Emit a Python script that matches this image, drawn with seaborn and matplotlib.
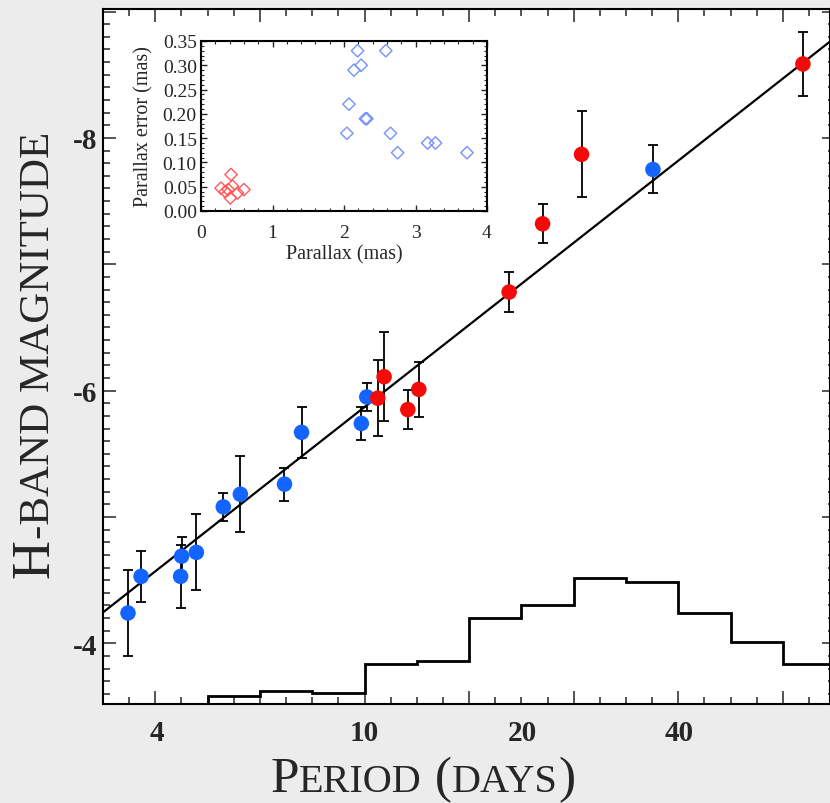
import numpy as np
import pandas as pd
import matplotlib
matplotlib.use("Agg")
import matplotlib.pyplot as plt
import seaborn as sns
from matplotlib.ticker import FixedLocator, NullLocator, NullFormatter, MultipleLocator
from matplotlib.transforms import IdentityTransform

# ---------------- data ----------------
blue_period = [3.53, 3.74, 4.45, 4.47, 4.77, 5.37, 5.79, 7.03, 7.58, 9.86, 10.1, 35.6]
blue_mag = [-4.24, -4.53, -4.53, -4.69, -4.72, -5.08, -5.18, -5.26, -5.67, -5.74, -5.95, -7.75]
blue_err = [0.34, 0.20, 0.25, 0.15, 0.30, 0.11, 0.30, 0.13, 0.20, 0.13, 0.11, 0.19]

red_period = [10.6, 10.9, 12.1, 12.7, 18.9, 21.9, 26.0, 68.9]
red_mag = [-5.94, -6.11, -5.85, -6.01, -6.78, -7.32, -7.87, -8.585]
red_err = [0.30, 0.35, 0.155, 0.22, 0.16, 0.155, 0.34, 0.25]

fit_slope = -3.25        # mag per dex
fit_zero_point = -5.87   # magnitude at log P = 1

hist_log_edges = [0.7, 0.8, 0.9, 1.0, 1.1, 1.2, 1.3, 1.4, 1.5, 1.6, 1.7, 1.8, 1.9]
hist_counts = [3, 5, 4, 15, 16, 32, 37, 47, 45.5, 34, 23, 15]

x_tick_values = [4, 10, 20, 40]
x_tick_labels = ["4", "10", "20", "40"]
y_tick_values = [-9, -8, -7, -6, -5, -4]
y_tick_labels = ["", "-8", "", "-6", "", "-4"]

par_blue = [2.19, 2.585, 2.24, 2.14, 2.07, 2.30, 2.32, 2.04, 2.65, 2.75, 3.17, 3.28, 3.72]
parerr_blue = [0.33, 0.33, 0.30, 0.29, 0.22, 0.19, 0.19, 0.16, 0.16, 0.12, 0.14, 0.14, 0.12]
par_red = [0.28, 0.34, 0.42, 0.44, 0.41, 0.38, 0.51, 0.60]
parerr_red = [0.047, 0.040, 0.075, 0.051, 0.027, 0.044, 0.037, 0.044]

inset_xticks = [0, 1, 2, 3, 4]
inset_yticks = [0.00, 0.05, 0.10, 0.15, 0.20, 0.25, 0.30, 0.35]

# ---------------- style ----------------
sns.set_style("ticks")
plt.rcParams['font.family'] = ['Liberation Serif', 'DejaVu Serif']
plt.rcParams['axes.unicode_minus'] = False

W, H = 830, 804
BG = '#ececec'
fig = plt.figure(figsize=(W / 100, H / 100), dpi=100, facecolor=BG)


def fx(px):
    return px / W


def fy(py):
    return 1 - py / H


# main axes
ax = fig.add_axes([fx(103), fy(705), fx(830 - 103), (705 - 10) / H])
ax.set_facecolor('white')
for s in ax.spines.values():
    s.set_linewidth(1.5)
    s.set_color('black')

df = pd.DataFrame({
    'period': blue_period + red_period,
    'mag': blue_mag + red_mag,
    'err': blue_err + red_err,
    'group': ['blue'] * len(blue_period) + ['red'] * len(red_period),
})

ax.set_xscale('log')
xlim = (10 ** 0.5, 10 ** 1.89)
ylim = (-3.52, -9.02)

ax.errorbar(df['period'], df['mag'], yerr=df['err'], fmt='none', ecolor='black',
            elinewidth=1.3, capsize=3.5, capthick=1.3, zorder=2)
sns.scatterplot(data=df, x='period', y='mag', hue='group',
                palette={'blue': '#1464ff', 'red': '#f50a0a'}, s=125,
                linewidth=0, legend=False, ax=ax, zorder=3)

line_x = np.array(xlim)
line_y = fit_zero_point + fit_slope * (np.log10(line_x) - 1)
sns.lineplot(x=line_x, y=line_y, color='black', linewidth=1.6, ax=ax, zorder=2.5)

ax.set_xlim(*xlim)
ax.set_ylim(*ylim)
ax.set_xlabel('')
ax.set_ylabel('')

# x ticks: uniform in log P (decorative), labels at 4/10/20/40
ax.xaxis.set_major_locator(FixedLocator(10 ** np.arange(0.6, 1.85, 0.2)))
ax.xaxis.set_minor_locator(FixedLocator(10 ** np.arange(0.5, 1.9, 0.05)))
ax.xaxis.set_major_formatter(NullFormatter())
ax.xaxis.set_minor_formatter(NullFormatter())
ax.tick_params(axis='x', which='major', direction='in', length=9.5, width=1.1,
               top=True, bottom=True, labelbottom=False)
ax.tick_params(axis='x', which='minor', direction='in', length=5, width=1.1,
               top=True, bottom=True)

ax.set_yticks(y_tick_values, labels=y_tick_labels, fontweight='bold', fontsize=21)
ax.yaxis.set_minor_locator(MultipleLocator(0.1))
ax.tick_params(axis='y', which='major', direction='in', length=9, width=1.1,
               left=True, right=False, pad=4)
ax.tick_params(axis='y', which='minor', direction='in', length=5, width=1.1,
               left=True, right=False)

sec_b = ax.secondary_xaxis('bottom')
sec_b.set_xticks(x_tick_values, labels=x_tick_labels, fontweight='bold', fontsize=21)
sec_b.xaxis.set_minor_locator(NullLocator())
sec_b.tick_params(length=0, pad=11)
sec_b.spines['bottom'].set_visible(False)

sec_r = ax.secondary_yaxis('right')
sec_r.set_yticks(y_tick_values, labels=[''] * len(y_tick_values))
sec_r.yaxis.set_minor_locator(MultipleLocator(0.1))
sec_r.tick_params(which='major', direction='in', length=6, width=1.1)
sec_r.tick_params(which='minor', direction='in', length=1.5, width=1.1)
sec_r.spines['right'].set_visible(False)

# histogram on twin axis
ax_h = ax.twinx()
ax_h.stairs(hist_counts, 10 ** np.array(hist_log_edges), color='black', linewidth=2.0)
ax_h.set_ylim(0, 259)
ax_h.set_xlim(*xlim)
ax_h.set_axis_off()

# ---------------- inset ----------------
ins = fig.add_axes([fx(201), fy(212), fx(487 - 201), (212 - 42) / H])
ins.set_zorder(5)
ins.set_facecolor('white')
for s in ins.spines.values():
    s.set_linewidth(1.5)
    s.set_color('black')
sns.scatterplot(x=par_red, y=parerr_red, marker='D', s=40, facecolors='none',
                edgecolor='#ff5a5a', linewidth=1.0, ax=ins)
sns.scatterplot(x=par_blue, y=parerr_blue, marker='D', s=40, facecolors='none',
                edgecolor='#7592ff', linewidth=1.0, ax=ins)
ins.set_xlim(0, 4)
ins.set_ylim(0, 0.35)
ins.set_xticks(inset_xticks, labels=[str(v) for v in inset_xticks], fontsize=14)
ins.set_yticks(inset_yticks, labels=[f"{v:.2f}" for v in inset_yticks], fontsize=14)
ins.xaxis.set_minor_locator(MultipleLocator(0.2))
ins.yaxis.set_minor_locator(MultipleLocator(0.01))
ins.tick_params(which='major', direction='in', length=4, width=1.0,
                top=True, right=True, left=True, bottom=True)
ins.tick_params(which='minor', direction='in', length=2, width=0.8,
                top=True, right=True, left=True, bottom=True)
ins.tick_params(axis='x', pad=9)
ins.tick_params(axis='y', pad=3)
ins.set_xlabel('Parallax (mas)', fontsize=14.5, labelpad=3)
ins.set_ylabel('Parallax error (mas)', fontsize=14.5, labelpad=7)

# ---------------- small-caps axis titles ----------------
fig.canvas.draw()
renderer = fig.canvas.get_renderer()


def place_pieces(pieces, center, base, vertical):
    texts = []
    for s, size in pieces:
        t = fig.text(0, 0, s, fontsize=size, family='Liberation Serif',
                     rotation=90 if vertical else 0, rotation_mode='anchor',
                     ha='left', va='baseline', transform=IdentityTransform())
        texts.append(t)
    lens = []
    for t in texts:
        bb = t.get_window_extent(renderer=renderer)
        lens.append(bb.height if vertical else bb.width)
    pos = center - sum(lens) / 2
    for t, L in zip(texts, lens):
        if vertical:
            t.set_position((base, pos))
        else:
            t.set_position((pos, base))
        pos += L


place_pieces([("P", 37), ("ERIOD", 29), (" (", 37), ("DAYS", 29), (")", 37)],
             center=423, base=H - 792, vertical=False)
place_pieces([("H", 39), ("-BAND MAGNITUDE", 31)],
             center=H - 355, base=49, vertical=True)

fig.savefig('out.png', dpi=100, facecolor=BG)
